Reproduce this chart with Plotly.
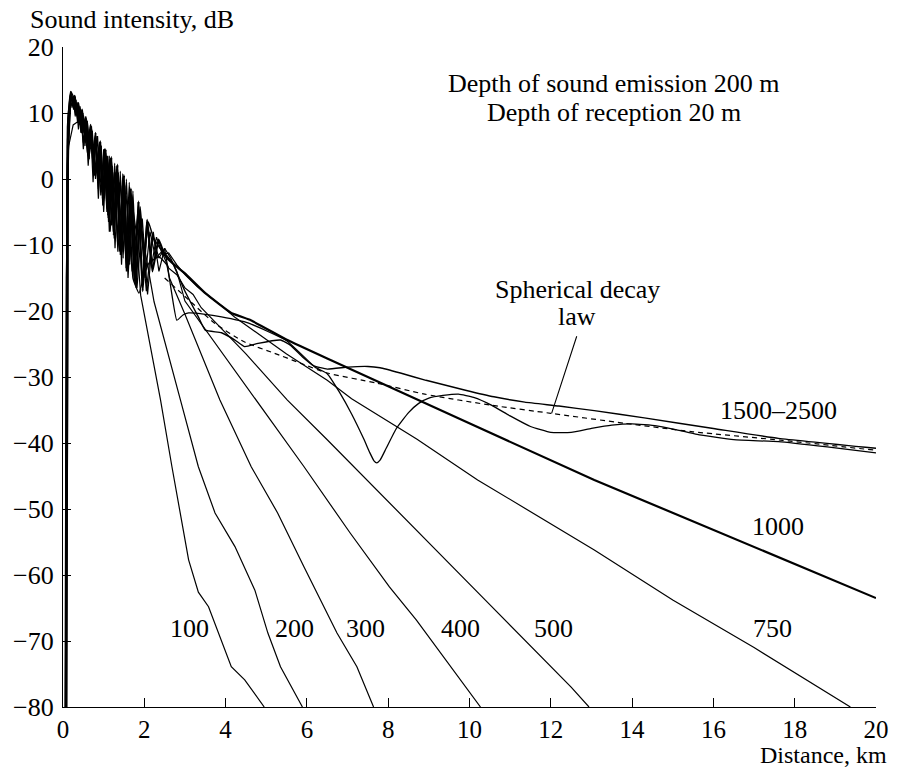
import plotly.graph_objects as go

# ---- data (distance km, intensity dB) ----
x100 = [0.05, 0.08, 0.14, 0.25, 0.37, 0.5, 0.65, 0.8, 0.95, 1.1, 1.25, 1.4, 1.55, 1.7, 1.8, 1.91,
        2.40, 2.68, 3.09, 3.33, 3.58, 3.82, 4.14, 4.47, 4.95]
y100 = [-80, -15, 5, 8.2, 8.7, 7.5, 4.5, 5.5, -1.5, 2.5, -6, -0.5, -11, -3.5, -8, -17.6,
        -33.5, -43.6, -57.7, -62.6, -64.8, -68.8, -73.9, -75.9, -80]

x200 = [0.06, 0.09, 0.15, 0.2, 0.3, 0.4, 0.5, 0.6, 0.7, 0.8, 0.9, 1.0, 1.1, 1.2, 1.3, 1.45, 1.55, 1.7,
        1.85, 2.0, 2.24, 2.89, 3.33, 3.74, 4.23, 4.72, 5.04, 5.35, 5.89]
y200 = [-80, -10, 10, 12.5, 11.5, 9, 9.3, 4, 7.5, 1, 5.5, -3, 3.5, -7, 1, -11, -2.5, -14,
        -5, -10, -18.6, -33.5, -43.6, -50.6, -55.7, -62.3, -68.8, -73.9, -80]

x300 = [0.06, 0.1, 0.2, 0.28, 0.38, 0.45, 0.55, 0.62, 0.72, 0.8, 0.9, 0.98, 1.08, 1.16, 1.26, 1.35,
        1.46, 1.56, 1.66, 1.78, 1.9, 2.05, 2.2, 2.36, 2.5, 2.62, 3.0, 3.86, 4.63, 5.28, 5.93, 6.42,
        6.74, 7.23, 7.64]
y300 = [-80, 0, 13, 11, 11.2, 7, 9.3, 3.5, 7.3, 0, 5, -4, 3.2, -8, 1, -11,
        -1, -14, -3, -16, -5.5, -17, -8.5, -12, -10.5, -15, -20.5, -33.5, -43.6, -50.6, -58.8, -64.8,
        -68.8, -73.9, -80]

x400 = [0.07, 0.1, 0.2, 0.3, 0.36, 0.42, 0.5, 0.56, 0.64, 0.7, 0.78, 0.85, 0.93, 1.0, 1.08, 1.16,
        1.24, 1.32, 1.42, 1.5, 1.6, 1.7, 1.82, 1.95, 2.08, 2.22, 2.36, 2.5, 2.65, 2.8, 3.0,
        4.75, 5.93, 7.06, 8.03, 8.69, 9.42, 10.27]
y400 = [-80, 2, 13.2, 12, 8.5, 11, 5.5, 9.5, 3, 8, 0.5, 6.5, -2.5, 4.5, -5, 3,
        -8, 1.5, -11, -0.5, -14, -3, -16.5, -6, -17.5, -8, -14, -10.5, -12, -14, -18.5,
        -33.5, -43.6, -53.6, -61.8, -66.8, -72.9, -80]

x500 = [0.07, 0.11, 0.2, 0.26, 0.32, 0.38, 0.44, 0.5, 0.56, 0.62, 0.68, 0.74, 0.8, 0.87, 0.94, 1.0,
        1.07, 1.14, 1.21, 1.28, 1.36, 1.44, 1.52, 1.6, 1.7, 1.8, 1.9, 2.02, 2.14, 2.28, 2.43, 2.6,
        2.8, 3.0, 3.2, 3.4, 4.5, 5.52, 6.5, 7.47, 8.69, 10.39, 12.5, 12.94]
y500 = [-80, 5, 13.2, 10.5, 12, 7.5, 10.5, 4.5, 9, 2, 7.8, -0.5, 6.5, -3, 5, -5,
        3.5, -8, 2, -10.5, 1, -13, -1, -15, -3, -16.5, -5.5, -15, -8, -12, -11, -13.5,
        -14.5, -16.5, -17.5, -19.5, -26.5, -33.5, -39.5, -45.6, -53.2, -63.8, -77, -80]

x750 = [0.07, 0.11, 0.2, 0.25, 0.3, 0.34, 0.39, 0.44, 0.49, 0.54, 0.59, 0.64, 0.69, 0.75, 0.81, 0.87,
        0.93, 0.99, 1.05, 1.12, 1.19, 1.26, 1.33, 1.41, 1.49, 1.57, 1.66, 1.75, 1.85, 1.95, 2.06,
        2.18, 2.3, 2.45, 2.6, 2.8, 3.0, 3.3, 3.6, 3.9, 4.22, 5.5, 6.5, 7.1, 8.7, 10.2, 13.07, 15.0,
        17.0, 18.6, 19.37]
y750 = [-80, 6, 13, 11, 12.5, 9.5, 11, 7, 10, 5, 8.8, 3, 8, 1, 6.5, -1.5,
        5.2, -4, 4, -6.5, 3, -9, 1.8, -11.5, 0.5, -13.5, -1.5, -15.5, -3.5, -16, -6.5,
        -13, -8.8, -11.5, -11.2, -13, -14.5, -16.3, -17.8, -19.2, -20.9, -26.5, -30.5, -33.3, -39.4,
        -45.6, -56.2, -63.8, -71, -77, -80]

x1000 = [0.08, 0.12, 0.19, 0.24, 0.29, 0.33, 0.38, 0.42, 0.47, 0.52, 0.57, 0.62, 0.68, 0.74, 0.8,
         0.86, 0.92, 0.98, 1.05, 1.12, 1.19, 1.26, 1.34, 1.42, 1.5, 1.58, 1.67, 1.76, 1.86, 1.96,
         2.07, 2.2, 2.35, 2.5, 2.68, 3.0, 3.5, 4.14, 4.62, 5.52, 6.5, 13.07, 20.0]
y1000 = [-80, 8, 13.2, 11.5, 12.6, 10, 11.5, 8.5, 10.5, 7, 9.2, 5, 8.2, 2.5, 7,
         0, 5.7, -3, 4.5, -6, 3.3, -8, 2.2, -11, 0.6, -13.5, -1.4, -15.5, -3.4, -17,
         -6.2, -14, -9.2, -11.5, -12.7, -14.3, -17.3, -20.3, -21.4, -24.4, -27.2, -45.6, -63.5]

x1500 = [0.08, 0.12, 0.19, 0.23, 0.27, 0.31, 0.35, 0.39, 0.43, 0.47, 0.51, 0.55, 0.6, 0.65, 0.7,
         0.75, 0.8, 0.85, 0.9, 0.96, 1.02, 1.08, 1.14, 1.2, 1.27, 1.34, 1.41, 1.48, 1.56, 1.64,
         1.72, 1.8, 1.9, 2.0, 2.1, 2.22, 2.4, 2.55, 2.7, 3.0, 3.33, 3.5, 3.9, 4.23, 4.47, 4.8,
         5.35, 5.6, 5.9, 6.17, 6.5, 7.0, 7.5, 7.8, 8.3, 8.93, 9.9, 10.6, 11.36, 12.2, 13.07,
         14.3, 16.0, 17.6, 20.0]
y1500 = [-80, 9, 13, 11.8, 12.4, 10, 11.6, 9, 10.6, 7.5, 9.6, 6, 8.8, 4.5, 7.8,
         2.5, 6.6, 0.5, 5.6, -2, 4.6, -4.5, 3.5, -7, 2.4, -9.5, 1.2, -12, 0, -13,
         -1.8, -14.5, -4.2, -12, -6.5, -8.8, -10.6, -11.6, -12.8, -17, -20.9, -22.9, -23.3, -24.4, -25.4, -24.9,
         -24.4, -25.2, -27, -28.3, -28.8, -28.5, -28.4, -28.6, -29.4, -30.5, -32, -33, -33.8, -34.4, -35.1,
         -36.2, -37.8, -39.3, -40.8]

x2000 = [0.09, 0.13, 0.18, 0.22, 0.26, 0.3, 0.34, 0.38, 0.42, 0.46, 0.5, 0.55, 0.6, 0.65, 0.7,
         0.75, 0.8, 0.86, 0.92, 0.98, 1.04, 1.1, 1.17, 1.24, 1.31, 1.39, 1.47, 1.55, 1.63, 1.72,
         1.87, 2.0, 2.12, 2.36, 2.55, 2.8, 2.95, 3.09, 3.5, 3.9, 4.55, 5.5, 6.2, 6.5, 6.8, 7.1,
         7.4, 7.55, 7.65, 7.72, 7.8, 7.95, 8.2, 8.5, 8.75, 9.0, 9.35, 9.73, 10.1, 10.55, 11.0,
         11.5, 12.0, 12.5, 13.0, 13.5, 14.0, 14.6, 15.1, 15.6, 16.5, 17.6, 18.8, 20.0]
y2000 = [-80, 4, 12.8, 10.8, 12, 9.5, 11.2, 8.5, 10.3, 7, 9.4, 5.5, 8.5, 3.5, 7.5,
         1.5, 6.3, -0.5, 5.3, -3, 4.3, -5.5, 3.2, -8.5, 2, -11, 0.8, -13.5, -0.5, -15,
         -17.3, -14.4, -12.7, -11.8, -13, -21.4, -20.6, -20.3, -20.5, -20.9, -21.8, -24.5, -28.5, -29.5, -32.3, -35.6,
         -39.4, -41.5, -42.7, -43, -42.6, -40.8, -37.8, -35.4, -34, -33.2, -32.8, -32.6, -33.1, -34.3, -35.9,
         -37.5, -38.4, -38.4, -37.8, -37.3, -37.1, -37.4, -38, -38.7, -39.5, -39.8, -40.6, -41.5]

xsph = [2.5, 3.09, 3.74, 4.47, 5.2, 5.84, 6.5, 7.7, 8.9, 10.56, 12.0, 13.8, 15.5, 17.7, 20.0]
ysph = [-15, -18.3, -21.9, -24.7, -26.4, -27.9, -29.4, -30.9, -32.6, -34.3, -35.5, -37, -38.3, -39.6, -41.1]

x_ticks = [0, 2, 4, 6, 8, 10, 12, 14, 16, 18, 20]
y_ticks = [20, 10, 0, -10, -20, -30, -40, -50, -60, -70, -80]

curve_labels = ["100", "200", "300", "400", "500", "750", "1000", "1500–2500"]
label_x = [3.10, 5.69, 7.45, 9.78, 12.07, 17.45, 17.6, 17.6]
label_y = [-68.1, -68.1, -68.1, -68.1, -68.1, -68.1, -52.6, -35.0]

FONT = "Liberation Serif"
FS = 26
TXT = dict(family=FONT, size=FS, color="black")

fig = go.Figure()
thin = [(x100, y100), (x200, y200), (x300, y300), (x400, y400), (x500, y500), (x750, y750)]
for xs, ys in thin:
    fig.add_trace(go.Scatter(x=xs, y=ys, mode="lines", line=dict(color="black", width=1.2),
                             showlegend=False, hoverinfo="skip"))
fig.add_trace(go.Scatter(x=x1500, y=y1500, mode="lines",
                         line=dict(color="black", width=1.4, shape="spline", smoothing=0.4),
                         showlegend=False, hoverinfo="skip"))
fig.add_trace(go.Scatter(x=x2000, y=y2000, mode="lines",
                         line=dict(color="black", width=1.3, shape="spline", smoothing=0.4),
                         showlegend=False, hoverinfo="skip"))
fig.add_trace(go.Scatter(x=x1000, y=y1000, mode="lines",
                         line=dict(color="black", width=2.2, shape="spline", smoothing=0.3),
                         showlegend=False, hoverinfo="skip"))
fig.add_trace(go.Scatter(x=xsph, y=ysph, mode="lines",
                         line=dict(color="black", width=1.2, dash="5px,4px", shape="spline", smoothing=0.6),
                         showlegend=False, hoverinfo="skip"))

for t, lx, ly in zip(curve_labels, label_x, label_y):
    fig.add_annotation(x=lx, y=ly, text=t, showarrow=False, xanchor="center", yanchor="middle", font=TXT)

fig.add_annotation(x=12.65, y=-16.8, text="Spherical decay", showarrow=False,
                   xanchor="center", yanchor="middle", font=TXT)
fig.add_annotation(x=12.65, y=-20.8, text="law", showarrow=False,
                   xanchor="center", yanchor="middle", font=TXT)
fig.add_annotation(x=12.02, y=-35.5, ax=12.65, ay=-23.6, axref="x", ayref="y", text="",
                   showarrow=True, arrowhead=0, arrowwidth=1.1, arrowcolor="black",
                   standoff=0, startstandoff=0)

fig.add_annotation(xref="paper", yref="paper", x=0.6776, y=0.944, xanchor="center", yanchor="middle",
                   text="Depth of sound emission 200 m", showarrow=False, font=TXT)
fig.add_annotation(xref="paper", yref="paper", x=0.6776, y=0.9015, xanchor="center", yanchor="middle",
                   text="Depth of reception 20 m", showarrow=False, font=TXT)
fig.add_annotation(xref="paper", yref="paper", x=-0.0426, y=1.041, xanchor="left", yanchor="middle",
                   text="Sound intensity, dB", showarrow=False, font=TXT)
fig.add_annotation(xref="paper", yref="paper", x=1.0158, y=-0.072, xanchor="right", yanchor="middle",
                   text="Distance, km", showarrow=False, font=dict(family=FONT, size=24, color="black"))

axis_common = dict(showgrid=False, zeroline=False, showline=True, linecolor="black", linewidth=1.3,
                   ticks="inside", tickcolor="black", tickwidth=1.3, mirror=False)
fig.update_xaxes(range=[0, 20], tickvals=x_ticks, ticklen=9, ticklabelstandoff=0,
                 tickfont=dict(family=FONT, size=25, color="black"), **axis_common)
fig.update_yaxes(range=[-80, 20], tickvals=y_ticks, ticklen=8, ticklabelstandoff=3,
                 tickfont=TXT, **axis_common)

fig.update_layout(width=901, height=769, margin=dict(l=63, r=16, t=47, b=62),
                  plot_bgcolor="white", paper_bgcolor="white", showlegend=False)

fig.write_html("out.html")
